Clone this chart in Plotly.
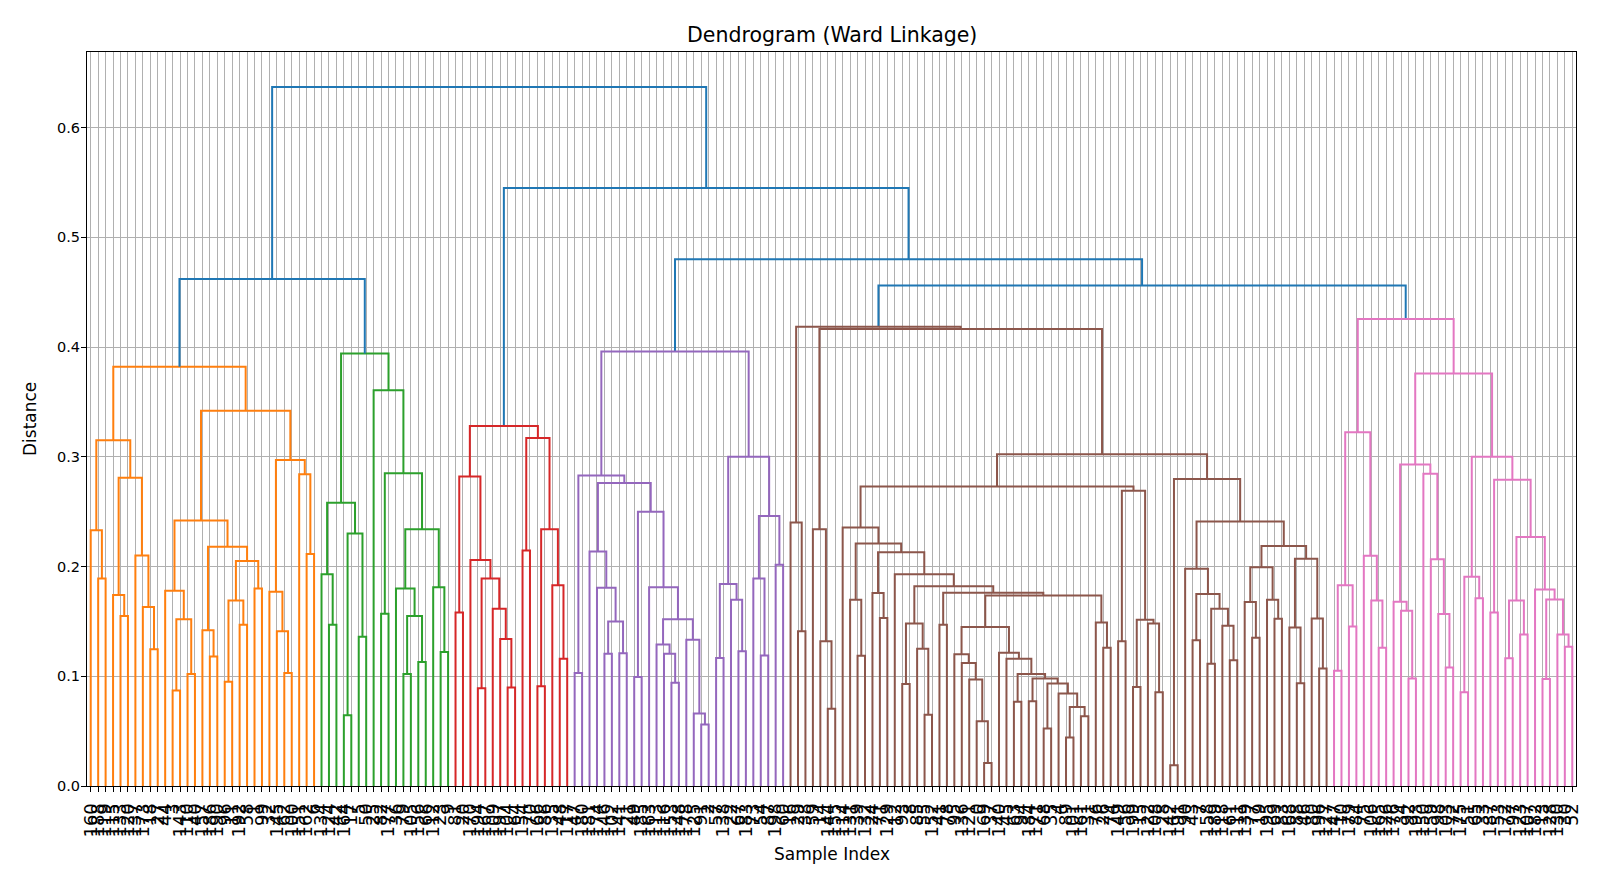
import plotly.graph_objects as go

# leaf labels per cluster, left to right as they appear on the x axis
orange_leaves = [160, 188, 119, 115, 133, 120, 137, 173, 18, 27, 44, 3, 143, 110, 40, 157,
                 186, 190, 96, 11, 192, 58, 1, 99, 32, 145, 62, 100, 151, 162, 6]
green_leaves = [134, 124, 42, 164, 17, 5, 50, 25, 82, 177, 36, 79, 105, 156, 66, 112, 23, 9]
red_leaves = [81, 20, 170, 194, 167, 109, 197, 104, 64, 154, 70, 166, 86, 135, 48, 117]
purple_leaves = [47, 180, 181, 174, 146, 102, 141, 21, 49, 185, 163, 113, 116, 153, 148,
                 178, 125, 91, 2, 57, 138, 22, 67, 183, 73, 54, 87, 198, 60]
brown_leaves = [16, 29, 38, 59, 14, 144, 155, 114, 131, 39, 132, 24, 71, 129, 12, 93, 8, 85,
                55, 152, 41, 78, 95, 136, 121, 0, 169, 37, 140, 45, 63, 94, 184, 171, 68, 35,
                4, 89, 101, 161, 31, 76, 26, 74, 149, 56, 199, 15, 122, 108, 28, 142, 191, 90,
                43, 7, 158, 189, 118, 61, 111, 139, 77, 19, 195, 69, 83, 168, 88, 46, 80, 196, 127]
pink_leaves = [147, 10, 179, 84, 75, 106, 165, 126, 176, 34, 92, 193, 150, 159, 98, 103, 72,
               175, 51, 65, 33, 187, 53, 172, 97, 123, 107, 182, 13, 128, 130, 30, 52]

# merge trees: (distance, left, right), ints are positions inside the cluster's leaf list
orange_tree = (0.382,
               (0.315, (0.233, 0, (0.189, 1, 2)),
                (0.281, (0.174, 3, (0.155, 4, 5)), (0.21, 6, (0.163, 7, (0.1245, 8, 9))))),
               (0.342,
                (0.242, (0.178, 10, (0.152, (0.087, 11, 12), (0.102, 13, 14))),
                 (0.218, (0.142, 15, (0.118, 16, 17)),
                  (0.205, (0.169, (0.095, 18, 19), (0.147, 20, 21)), (0.18, 22, 23)))),
                (0.297, (0.177, 24, (0.141, 25, (0.103, 26, 27))), (0.284, 28, (0.2115, 29, 30)))))
green_tree = (0.394,
              (0.258, (0.193, 0, (0.147, 1, 2)), (0.23, (0.0645, 3, 4), (0.136, 5, 6))),
              (0.3606, 7,
               (0.285, (0.157, 8, 9),
                (0.234, (0.18, 10, (0.155, (0.102, 11, 12), (0.113, 13, 14))),
                 (0.181, 15, (0.122, 16, 17))))))
red_tree = (0.328,
            (0.282, (0.158, 0, 1),
             (0.206, 2, (0.189, (0.089, 3, 4), (0.1615, 5, (0.134, 6, (0.0897, 7, 8)))))),
            (0.317, (0.2145, 9, 10),
             (0.234, (0.091, 11, 12), (0.183, 13, (0.116, 14, 15)))))
purple_tree = (0.396,
               (0.283, (0.103, 0, 1),
                (0.276, (0.2136, 2, (0.1806, 3, (0.15, (0.1206, 4, 5), (0.121, 6, 7)))),
                 (0.25, (0.0994, 8, 9),
                  (0.181, 10, (0.152, (0.129, 11, (0.1206, 12, (0.094, 13, 14))),
                               (0.1333, 15, (0.066, 16, (0.056, 17, 18)))))))),
               (0.3, (0.184, (0.1167, 19, 20), (0.1697, 21, (0.1227, 22, 23))),
                (0.246, (0.189, 24, (0.119, 25, 26)), (0.2015, 27, 28))))
brown_tree = (0.4185,
              (0.24, 0, (0.141, 1, 2)),
              (0.4165, (0.234, 3, (0.132, 4, (0.0703, 5, 6))),
               (0.3024,
                (0.273,
                 (0.2355, 7,
                  (0.221, (0.1697, 8, (0.1188, 9, 10)),
                   (0.213, (0.1758, 11, (0.153, 12, 13)),
                    (0.193, 14,
                     (0.182, (0.148, (0.093, 15, 16), (0.125, 17, (0.065, 18, 19))),
                      (0.176, (0.147, 20, 21),
                       (0.1736,
                        (0.145, (0.12, 22, (0.112, 23, (0.097, 24, (0.059, 25, (0.021, 26, 27))))),
                         (0.1215, 28, (0.116, 29,
                                       (0.102, (0.0767, 30, 31),
                                        (0.098, (0.0773, 32, 33),
                                         (0.0933, (0.0524, 34, 35),
                                          (0.0842, 36, (0.072, (0.0442, 37, 38), (0.0636, 39, 40))))))))),
                        (0.149, 41, (0.126, 42, 43))))))))),
                 (0.269, (0.132, 44, 45), (0.1515, (0.0903, 46, 47), (0.148, 48, (0.0855, 49, 50))))),
                (0.2797, (0.019, 51, 52),
                 (0.241,
                  (0.198, 53, (0.175, (0.1327, 54, 55),
                               (0.1615, (0.1115, 56, 57), (0.146, 58, (0.1145, 59, 60))))),
                  (0.2188,
                   (0.1994, (0.1676, 61, (0.135, 62, 63)), (0.1697, 64, (0.1524, 65, 66))),
                   (0.207, (0.1445, 67, (0.0936, 68, 69)), (0.1527, 70, (0.107, 71, 72)))))))))
pink_tree = (0.4255,
             (0.3224, (0.183, (0.105, 0, 1), (0.1454, 2, 3)),
              (0.2097, 4, (0.169, 5, (0.126, 6, 7)))),
             (0.376,
              (0.293, (0.168, 8, (0.1597, 9, (0.098, 10, 11))),
               (0.2845, 12, (0.2067, 13, (0.1567, 14, (0.108, 15, 16))))),
              (0.3, (0.1906, (0.0855, 17, 18), (0.171, 19, 20)),
               (0.279, (0.158, 21, 22),
                (0.227, (0.169, (0.1164, 23, 24), (0.138, 25, 26)),
                 (0.179, 27, (0.17, (0.0976, 28, 29), (0.138, 30, (0.127, 31, 32)))))))))

# links above the colour threshold, joining the clusters
top_tree = (0.637,
            (0.462, 'orange', 'green'),
            (0.545, 'red', (0.48, 'purple', (0.456, 'brown', 'pink'))))

clusters = {
    'orange': (orange_leaves, orange_tree, '#ff7f0e'),
    'green': (green_leaves, green_tree, '#2ca02c'),
    'red': (red_leaves, red_tree, '#d62728'),
    'purple': (purple_leaves, purple_tree, '#9467bd'),
    'brown': (brown_leaves, brown_tree, '#8c564b'),
    'pink': (pink_leaves, pink_tree, '#e377c2'),
}
above_color = '#1f77b4'

# leaf offsets along the axis
labels = []
offsets = {}
for name, (leaves, tree, color) in clusters.items():
    offsets[name] = len(labels)
    labels += leaves

segments = {}


def draw(node, color, base):
    # returns (x, height) of the node, collects the U shaped links
    if isinstance(node, str):
        leaves, tree, c = clusters[node]
        return draw(tree, c, offsets[node])
    if isinstance(node, int):
        return 10 * (base + node) + 5, 0.0
    h, a, b = node
    xa, ha = draw(a, color, base)
    xb, hb = draw(b, color, base)
    segments.setdefault(color, []).append(([xa, xa, xb, xb], [ha, h, h, hb]))
    return (xa + xb) / 2, h


draw(top_tree, above_color, 0)

fig = go.Figure()
for color, segs in segments.items():
    xs, ys = [], []
    for sx, sy in segs:
        xs += sx + [None]
        ys += sy + [None]
    fig.add_trace(go.Scatter(x=xs, y=ys, mode='lines', line=dict(color=color, width=2),
                             hoverinfo='skip', showlegend=False))

ymax = top_tree[0] * 1.05
n = len(labels)

# the page body has an 8px margin, so the figure is a bit smaller than the window
fig.update_layout(
    width=1599, height=875,
    margin=dict(l=79, r=31, t=44, b=97),
    paper_bgcolor='white', plot_bgcolor='white',
    font=dict(family='DejaVu Sans', color='black', size=14),
    annotations=[
        dict(text='Dendrogram (Ward Linkage)', x=0.5, y=1, xref='paper', yref='paper',
             yshift=17, showarrow=False, font=dict(size=20.5), yanchor='middle'),
        dict(text='Sample Index', x=0.5, y=0, xref='paper', yref='paper',
             yshift=-68, showarrow=False, font=dict(size=17), yanchor='middle'),
        dict(text='Distance', x=0, y=0.5, xref='paper', yref='paper', textangle=-90,
             xshift=-57, showarrow=False, font=dict(size=17), xanchor='center'),
    ],
)
fig.update_xaxes(
    range=[0, n * 10], tickmode='array',
    tickvals=[10 * i + 5 for i in range(n)], ticktext=[str(v) for v in labels],
    tickangle=-90, tickfont=dict(size=18), ticklabelstandoff=4,
    showgrid=True, gridcolor='#b0b0b0', gridwidth=1, zeroline=False,
    showline=True, linecolor='black', linewidth=1, mirror=True,
    ticks='outside', ticklen=5, tickwidth=1, tickcolor='black',
)
fig.update_yaxes(
    range=[0, ymax], tickmode='linear', tick0=0, dtick=0.1, tickformat='.1f',
    tickfont=dict(size=14.5), ticklabelstandoff=-2,
    showgrid=True, gridcolor='#b0b0b0', gridwidth=1, zeroline=False,
    showline=True, linecolor='black', linewidth=1, mirror=True,
    ticks='outside', ticklen=5, tickwidth=1, tickcolor='black',
)

fig.write_html('out.html')
